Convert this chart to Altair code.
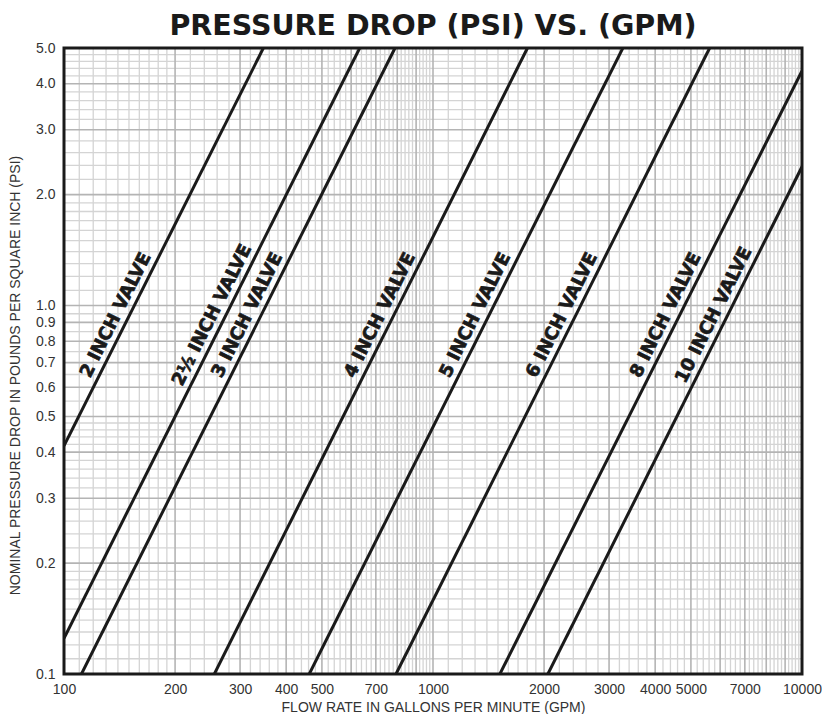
import altair as alt
import pandas as pd
import numpy as np

# ---- data ----
valves = ["2 INCH VALVE", "2½ INCH VALVE", "3 INCH VALVE", "4 INCH VALVE",
          "5 INCH VALVE", "6 INCH VALVE", "8 INCH VALVE", "10 INCH VALVE"]
start_flow = [100, 100, 111.5, 255.5, 462, 794, 1518, 2048]
start_psi = [0.416, 0.125, 0.1, 0.1, 0.1, 0.1, 0.1, 0.1]
end_flow = [347, 633, 789, 1803, 3270, 5620, 10000, 10000]
end_psi = [5.0, 5.0, 5.0, 5.0, 5.0, 5.0, 4.33, 2.38]
label_flow = [148, 270, 336.4, 770, 1395, 2396, 4579, 6181]
label_psi = [0.91, 0.91, 0.91, 0.91, 0.91, 0.91, 0.91, 0.91]

x_ticks = [100, 200, 300, 400, 500, 700, 1000, 2000, 3000, 4000, 5000, 7000, 10000]
y_ticks = [0.1, 0.2, 0.3, 0.4, 0.5, 0.6, 0.7, 0.8, 0.9, 1.0, 2.0, 3.0, 4.0, 5.0]

# graph-paper grid positions
x_major = [200, 300, 400, 500, 600, 700, 800, 900, 1000,
           2000, 3000, 4000, 5000, 6000, 7000, 8000, 9000]
y_major = [0.2, 0.3, 0.4, 0.5, 0.6, 0.7, 0.8, 0.9, 1.0, 2.0, 3.0, 4.0]
x_minor = (list(np.arange(110, 200, 10)) + [v for v in np.arange(220, 1000, 20) if v % 100]
           + list(np.arange(1100, 2000, 100)) + [v for v in np.arange(2200, 10000, 200) if v % 1000])
y_minor = ([round(v, 3) for v in np.arange(0.11, 0.195, 0.01)]
           + [round(v, 3) for v in np.arange(0.22, 0.49, 0.02) if abs(round(v * 10) - v * 10) > 1e-6]
           + [0.55, 0.65, 0.75, 0.85, 0.95]
           + [round(v, 3) for v in np.arange(1.1, 1.95, 0.1)]
           + [round(v, 3) for v in np.arange(2.2, 4.9, 0.2) if abs(round(v) - v) > 1e-6])

W, H = 738, 626
HEAVY = "DejaVu Sans"
PLAIN = "Liberation Sans"
INK = "#1a1a1a"

xscale = alt.Scale(type="log", domain=[100, 10000], nice=False)
yscale = alt.Scale(type="log", domain=[0.1, 5.0], nice=False)

rows = []
for v, f0, p0, f1, p1 in zip(valves, start_flow, start_psi, end_flow, end_psi):
    rows.append({"valve": v, "flow": f0, "psi": p0, "o": 0})
    rows.append({"valve": v, "flow": f1, "psi": p1, "o": 1})
lines_df = pd.DataFrame(rows)
labels_df = pd.DataFrame({"valve": valves, "flow": label_flow, "psi": label_psi})

xminor_df = pd.DataFrame({"flow": [float(v) for v in x_minor]})
xmajor_df = pd.DataFrame({"flow": x_major})
yminor_df = pd.DataFrame({"psi": [float(v) for v in y_minor]})
ymajor_df = pd.DataFrame({"psi": y_major})

xaxis = alt.Axis(values=x_ticks, format="d", ticks=False, domain=False, grid=False,
                 labelFont=PLAIN, labelFontSize=14, labelColor="#333", labelPadding=8,
                 labelFlush=False,
                 title="FLOW RATE IN GALLONS PER MINUTE (GPM)", titleFont=PLAIN,
                 titleFontSize=14, titleFontWeight="normal", titleColor="#333", titlePadding=4)
yaxis = alt.Axis(values=y_ticks, format=".1f", ticks=False, domain=False, grid=False,
                 labelFont=PLAIN, labelFontSize=14, labelColor="#333", labelPadding=9,
                 labelFlush=False,
                 title="NOMINAL PRESSURE DROP IN POUNDS PER SQUARE INCH (PSI)", titleFont=PLAIN,
                 titleFontSize=14, titleFontWeight="normal", titleColor="#333", titlePadding=13,
                 titleY=327)

gx_minor = alt.Chart(xminor_df).mark_rule(color="#d4d4d4", strokeWidth=1.3).encode(
    x=alt.X("flow:Q", scale=xscale, axis=xaxis))
gy_minor = alt.Chart(yminor_df).mark_rule(color="#d4d4d4", strokeWidth=1.3).encode(
    y=alt.Y("psi:Q", scale=yscale, axis=yaxis))
gx_major = alt.Chart(xmajor_df).mark_rule(color="#b4b4b4", strokeWidth=1.6).encode(
    x=alt.X("flow:Q", scale=xscale))
gy_major = alt.Chart(ymajor_df).mark_rule(color="#b4b4b4", strokeWidth=1.6).encode(
    y=alt.Y("psi:Q", scale=yscale))

lines = alt.Chart(lines_df).mark_line(color=INK, strokeWidth=3, clip=True).encode(
    x=alt.X("flow:Q", scale=xscale),
    y=alt.Y("psi:Q", scale=yscale),
    detail="valve:N",
    order="o:Q",
)

labels = alt.Chart(labels_df).mark_text(
    angle=296.6, align="center", baseline="bottom", dy=-3,
    font=HEAVY, fontSize=18, fontWeight="bold", color=INK,
    stroke=INK, strokeWidth=0.7,
).encode(
    x=alt.X("flow:Q", scale=xscale),
    y=alt.Y("psi:Q", scale=yscale),
    text="valve:N",
)

frame = alt.Chart(pd.DataFrame({"a": [0]})).mark_rect(
    fillOpacity=0, stroke=INK, strokeWidth=3
).encode(x=alt.value(0), x2=alt.value(W), y=alt.value(0), y2=alt.value(H))

chart = alt.layer(gx_minor, gy_minor, gx_major, gy_major, lines, labels, frame).properties(
    width=W, height=H, padding={"top": 3, "left": 0, "right": 0, "bottom": 0},
    title=alt.TitleParams("PRESSURE DROP (PSI) VS. (GPM)", font=HEAVY, fontSize=28.5,
                          fontWeight="bold", color=INK, anchor="middle", offset=1),
).configure_view(stroke=None)

chart.save("out.html", embed_options={"renderer": "svg", "actions": False})
